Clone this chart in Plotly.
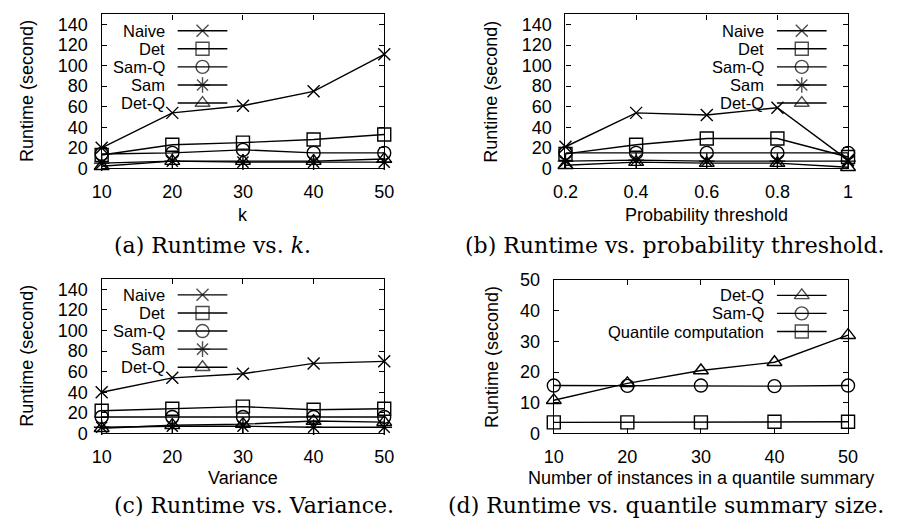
import plotly.graph_objects as go

W, H = 898, 531

# ---------------- data ----------------
k_vals = [10, 20, 30, 40, 50]
naive_a = [20, 54, 61, 75, 111]
det_a = [13, 23, 25, 28, 33]
samq_a = [14, 15, 18, 15, 15]
sam_a = [5, 7, 6, 6, 6]
detq_a = [2, 7, 7, 7, 9]

thr_vals = [0.2, 0.4, 0.6, 0.8, 1.0]
naive_b = [21, 54, 52, 59, 8]
det_b = [14, 23, 29, 29, 11]
samq_b = [15, 15, 15, 15, 15]
sam_b = [7, 8, 7, 7, 7]
detq_b = [3, 6, 5, 5, 1]

var_vals = [10, 20, 30, 40, 50]
naive_c = [40, 54, 58, 68, 70]
det_c = [22, 24, 26, 23, 24]
samq_c = [16, 16, 16, 16, 16]
sam_c = [6, 7, 7, 6, 6]
detq_c = [5, 8, 9, 12, 11]

qs_vals = [10, 20, 30, 40, 50]
detq_d = [10.8, 16.3, 20.5, 23.2, 32]
samq_d = [15.6, 15.5, 15.6, 15.4, 15.6]
quant_d = [3.6, 3.6, 3.6, 3.8, 3.8]

y_ticks_main = [0, 20, 40, 60, 80, 100, 120, 140]
y_ticks_d = [0, 10, 20, 30, 40, 50]
x_ticks_k = [10, 20, 30, 40, 50]
x_ticks_thr = [0.2, 0.4, 0.6, 0.8, 1]
x_ticktext_thr = ["0.2", "0.4", "0.6", "0.8", "1"]

# ---------------- styles ----------------
SANS = "Liberation Sans, Arial, sans-serif"
SERIF = "DejaVu Serif, serif"
FS = 18
FS_KEY = 16.5
LW = 1.4
SYM = {
    "Naive": dict(symbol="x-thin-open", size=12),
    "Det": dict(symbol="square-open", size=13),
    "Sam-Q": dict(symbol="circle-open", size=13),
    "Sam": dict(symbol="asterisk-open", size=13),
    "Det-Q": dict(symbol="triangle-up-open", size=13),
    "Quantile computation": dict(symbol="square-open", size=13),
}

# panel boxes in pixels: (left, right, top, bottom)
BOX = {
    1: (91, 381, 4.5, 164.5),
    2: (567, 857, 4.5, 164.5),
    3: (91, 381, 279.5, 440),
    4: (555, 857, 280.5, 440),
}

def dx(l, r):
    return [l / W, r / W]

def dy(t, b):
    return [1 - b / H, 1 - t / H]

fig = go.Figure()

def add_series(xs, ys, name, idx):
    s = SYM[name]
    fig.add_trace(go.Scatter(
        x=xs, y=ys, mode="lines+markers", name=name, showlegend=False,
        xaxis="x" if idx == 1 else f"x{idx}", yaxis="y" if idx == 1 else f"y{idx}",
        line=dict(color="black", width=LW),
        marker=dict(symbol=s["symbol"], size=s["size"], color="black",
                    line=dict(color="black", width=LW)),
        cliponaxis=False,
    ))

panels = {
    1: (k_vals, [("Naive", naive_a), ("Det", det_a), ("Sam-Q", samq_a), ("Sam", sam_a), ("Det-Q", detq_a)]),
    2: (thr_vals, [("Naive", naive_b), ("Det", det_b), ("Sam-Q", samq_b), ("Sam", sam_b), ("Det-Q", detq_b)]),
    3: (var_vals, [("Naive", naive_c), ("Det", det_c), ("Sam-Q", samq_c), ("Sam", sam_c), ("Det-Q", detq_c)]),
    4: (qs_vals, [("Det-Q", detq_d), ("Sam-Q", samq_d), ("Quantile computation", quant_d)]),
}
for idx, (xs, series) in panels.items():
    for name, ys in series:
        add_series(xs, ys, name, idx)

# ---------------- manual gnuplot-style keys (overlay axis in pixel units) ----------------
LEGENDS = {
    1: dict(text_right=157, x0=169, x1=220, y0=21.5),
    2: dict(text_right=772, x0=784, x1=835, y0=21.5),
    3: dict(text_right=157, x0=169, x1=220, y0=296),
    4: dict(text_right=772, x0=784, x1=835, y0=296.5),
}
ROW = 18.8
annotations = []
for idx, lg in LEGENDS.items():
    for i, (name, _) in enumerate(panels[idx][1]):
        yy = lg["y0"] + i * ROW
        s = SYM[name]
        xm = (lg["x0"] + lg["x1"]) / 2
        fig.add_trace(go.Scatter(
            x=[lg["x0"], xm, lg["x1"]], y=[yy, yy, yy], mode="lines+markers",
            xaxis="x5", yaxis="y5", showlegend=False, hoverinfo="skip",
            line=dict(color="black", width=LW),
            marker=dict(symbol=s["symbol"], size=[0, s["size"], 0], color="black",
                        line=dict(color="black", width=LW)),
            cliponaxis=False,
        ))
        annotations.append(dict(
            x=lg["text_right"] / W, y=1 - yy / H, xref="paper", yref="paper",
            text=name, showarrow=False, xanchor="right", yanchor="middle",
            borderpad=0,
            font=dict(family=SANS, size=FS_KEY, color="black"),
        ))

# ---------------- axis titles & captions ----------------
xtitles = {1: "k", 2: "Probability threshold", 3: "Variance",
           4: "Number of instances in a quantile summary"}
xtitle_y = {1: 213, 2: 213, 3: 486, 4: 486}
ytitle_x = {1: 15, 2: 491, 3: 15, 4: 491}
for idx, (l, r, t, b) in BOX.items():
    annotations.append(dict(
        x=(l + r) / 2 / W, y=1 - xtitle_y[idx] / H, xref="paper", yref="paper",
        text=xtitles[idx], showarrow=False, xanchor="center", yanchor="middle",
        font=dict(family=SANS, size=FS, color="black")))
    annotations.append(dict(
        x=ytitle_x[idx] / W, y=1 - (t + b) / 2 / H, xref="paper", yref="paper",
        text="Runtime (second)", showarrow=False, textangle=-90,
        xanchor="center", yanchor="middle",
        font=dict(family=SANS, size=FS, color="black")))

captions = [
    ("(a) Runtime vs. <i>k</i>.", 103, 245, "left"),
    ("(b) Runtime vs. probability threshold.", 895, 245, "right"),
    ("(c) Runtime vs. Variance.", 103, 515, "left"),
    ("(d) Runtime vs. quantile summary size.", 895, 515, "right"),
]
for txt, x, y, anc in captions:
    annotations.append(dict(
        x=x / W, y=1 - y / H, xref="paper", yref="paper", text=txt,
        showarrow=False, xanchor=anc, yanchor="middle", borderpad=0,
        font=dict(family=SERIF, size=22, color="black")))

# ---------------- axes ----------------
def xaxis(idx, rng, tickvals, ticktext=None):
    l, r, t, b = BOX[idx]
    d = dict(domain=dx(l, r), range=rng, tickvals=tickvals,
             anchor="y" if idx == 1 else f"y{idx}",
             showline=True, linecolor="black", linewidth=LW, mirror="ticks",
             ticks="inside", ticklen=5, tickwidth=1, tickcolor="black",
             showgrid=False, zeroline=False, ticklabelstandoff=7,
             tickfont=dict(family=SANS, size=FS, color="black"), fixedrange=True)
    if ticktext:
        d["ticktext"] = ticktext
    return d

def yaxis(idx, rng, tickvals):
    l, r, t, b = BOX[idx]
    return dict(domain=dy(t, b), range=rng, tickvals=tickvals,
                anchor="x" if idx == 1 else f"x{idx}",
                showline=True, linecolor="black", linewidth=LW, mirror="ticks",
                ticks="inside", ticklen=5, tickwidth=1, tickcolor="black",
                showgrid=False, zeroline=False, ticklabelstandoff=9,
                tickfont=dict(family=SANS, size=FS, color="black"), fixedrange=True)

fig.update_layout(
    width=W, height=H,
    margin=dict(l=0, r=0, t=0, b=0),
    paper_bgcolor="white", plot_bgcolor="rgba(0,0,0,0)",
    showlegend=False,
    xaxis=xaxis(1, [10, 50], x_ticks_k),
    yaxis=yaxis(1, [0, 150], y_ticks_main),
    xaxis2=xaxis(2, [0.2, 1.0], x_ticks_thr, x_ticktext_thr),
    yaxis2=yaxis(2, [0, 150], y_ticks_main),
    xaxis3=xaxis(3, [10, 50], x_ticks_k),
    yaxis3=yaxis(3, [0, 150], y_ticks_main),
    xaxis4=xaxis(4, [10, 50], x_ticks_k),
    yaxis4=yaxis(4, [0, 50], y_ticks_d),
    xaxis5=dict(domain=[0, 1], range=[0, W], visible=False, anchor="y5", fixedrange=True),
    yaxis5=dict(domain=[0, 1], range=[H, 0], visible=False, anchor="x5", fixedrange=True),
    annotations=annotations,
)

fig.write_html("out.html", config={"displayModeBar": False})
